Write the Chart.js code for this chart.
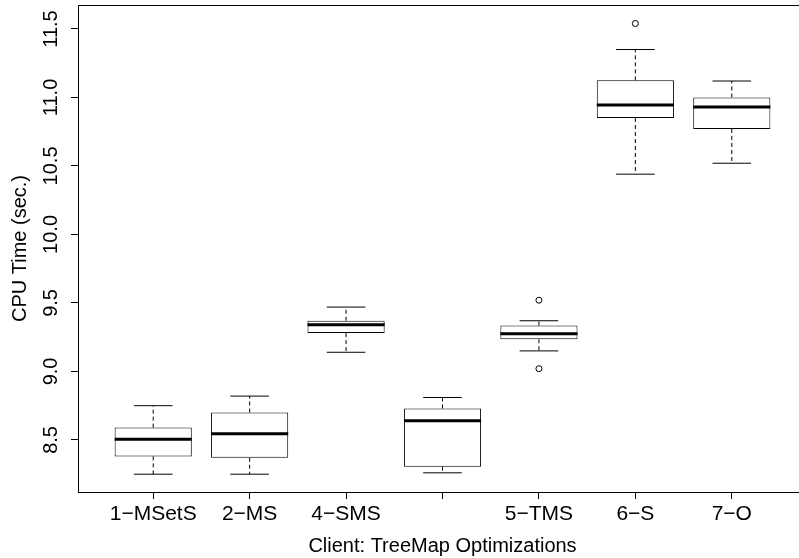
<!DOCTYPE html>
<html>
<head>
<meta charset="utf-8">
<script src="https://cdn.jsdelivr.net/npm/chart.js@4.4.1/dist/chart.umd.min.js"></script>
<style>
  html, body { margin: 0; padding: 0; background: #fff; overflow: hidden; }
  #clip { width: 799px; height: 558px; overflow: hidden; }
  #wrap { width: 812px; height: 558px; }
</style>
</head>
<body>
<!-- the plot region runs a little past the right edge of the picture, as in the original -->
<div id="clip"><div id="wrap"><canvas id="cpuChart"></canvas></div></div>
<script>
// Client: TreeMap Optimizations - CPU time box plots
const categories = ['1\u2212MSetS', '2\u2212MS', '4\u2212SMS', '', '5\u2212TMS', '6\u2212S', '7\u2212O'];
const whiskerLow  = [8.25, 8.25, 9.14, 8.26, 9.15, 10.44, 10.52];
const quartile1   = [8.38, 8.37, 9.28, 8.305, 9.235, 10.85, 10.77];
const medians     = [8.505, 8.545, 9.34, 8.64, 9.275, 10.945, 10.93];
const quartile3   = [8.59, 8.70, 9.37, 8.73, 9.335, 11.125, 11.0];
const whiskerHigh = [8.75, 8.82, 9.47, 8.81, 9.37, 11.35, 11.12];
const outliers    = [[], [], [], [], [9.52, 9.02], [11.54], []];
const yTicks      = [8.5, 9.0, 9.5, 10.0, 10.5, 11.0, 11.5];

const X_MIN = 0.22, X_MAX = 7.78;
const Y_MIN = 8.12, Y_MAX = 11.675;

Chart.defaults.font.family = "'Liberation Sans', Arial, sans-serif";
Chart.defaults.color = '#000';

// boxes as floating bars
const boxData = categories.map((c, i) => ({ x: i + 1, y: [quartile1[i], quartile3[i]] }));

// median segments
const medianData = [];
categories.forEach((c, i) => {
    medianData.push({ x: i + 0.6, y: medians[i] }, { x: i + 1.4, y: medians[i] }, { x: i + 1, y: null });
});

// dashed whisker stems
const stemData = [];
categories.forEach((c, i) => {
    stemData.push({ x: i + 1, y: quartile3[i] }, { x: i + 1, y: whiskerHigh[i] }, { x: i + 1, y: null });
    stemData.push({ x: i + 1, y: quartile1[i] }, { x: i + 1, y: whiskerLow[i] }, { x: i + 1, y: null });
});

// whisker caps
const capData = [];
categories.forEach((c, i) => {
    capData.push({ x: i + 0.8, y: whiskerHigh[i] }, { x: i + 1.2, y: whiskerHigh[i] }, { x: i + 1, y: null });
    capData.push({ x: i + 0.8, y: whiskerLow[i] }, { x: i + 1.2, y: whiskerLow[i] }, { x: i + 1, y: null });
});

const outlierData = [];
outliers.forEach((vals, i) => vals.forEach(v => outlierData.push({ x: i + 1, y: v })));

const ctx = document.getElementById('cpuChart').getContext('2d');
new Chart(ctx, {
    type: 'bar',
    data: {
        datasets: [
            {
                type: 'line',
                data: medianData,
                borderColor: '#000',
                borderWidth: 3,
                pointRadius: 0,
                spanGaps: false,
                order: 0
            },
            {
                type: 'scatter',
                data: outlierData,
                pointStyle: 'circle',
                pointRadius: 3,
                pointBorderWidth: 1,
                pointBorderColor: '#000',
                pointBackgroundColor: 'rgba(0,0,0,0)',
                order: 1
            },
            {
                type: 'line',
                data: capData,
                borderColor: '#000',
                borderWidth: 1,
                pointRadius: 0,
                spanGaps: false,
                order: 2
            },
            {
                type: 'line',
                data: stemData,
                borderColor: '#000',
                borderWidth: 1,
                borderDash: [4, 3],
                pointRadius: 0,
                spanGaps: false,
                order: 3
            },
            {
                type: 'bar',
                data: boxData,
                backgroundColor: '#fff',
                borderColor: '#000',
                borderWidth: 1,
                borderSkipped: false,
                barPercentage: 0.8,
                categoryPercentage: 1.0,
                grouped: false,
                order: 4
            }
        ]
    },
    options: {
        responsive: true,
        maintainAspectRatio: false,
        animation: false,
        events: [],
        layout: { padding: { top: 5, right: 1, left: 0, bottom: 0 } },
        plugins: {
            legend: { display: false },
            tooltip: { enabled: false }
        },
        scales: {
            x: {
                type: 'linear',
                position: 'bottom',
                min: X_MIN,
                max: X_MAX,
                offset: false,
                afterBuildTicks: axis => {
                    axis.ticks = categories.map((c, i) => ({ value: i + 1 }));
                },
                afterFit: axis => {
                    axis.height = 66;
                    axis.paddingLeft = 0;
                    axis.paddingRight = 0;
                },
                ticks: {
                    callback: v => categories[Math.round(v) - 1],
                    font: { size: 21 },
                    color: '#000',
                    padding: 3,
                    maxRotation: 0,
                    autoSkip: false
                },
                grid: {
                    display: true,
                    offset: false,
                    drawOnChartArea: false,
                    drawTicks: true,
                    tickLength: 7,
                    color: '#000'
                },
                border: { display: true, color: '#000', width: 1 },
                title: {
                    display: true,
                    text: 'Client: TreeMap Optimizations',
                    font: { size: 20 },
                    color: '#000',
                    padding: { top: 0, bottom: 0 }
                }
            },
            y: {
                type: 'linear',
                position: 'left',
                min: Y_MIN,
                max: Y_MAX,
                afterBuildTicks: axis => {
                    axis.ticks = yTicks.map(v => ({ value: v }));
                },
                afterFit: axis => {
                    axis.width = 78;
                    axis.paddingTop = 0;
                    axis.paddingBottom = 0;
                },
                ticks: {
                    callback: v => Number(v).toFixed(1),
                    font: { size: 20 },
                    color: '#000',
                    minRotation: 90,
                    maxRotation: 90,
                    crossAlign: 'center',
                    padding: 0
                },
                grid: {
                    display: true,
                    drawOnChartArea: false,
                    drawTicks: true,
                    tickLength: 7,
                    color: '#000'
                },
                border: { display: true, color: '#000', width: 1 },
                title: {
                    display: true,
                    text: 'CPU Time (sec.)',
                    font: { size: 20 },
                    color: '#000',
                    padding: { top: 8, bottom: 0 }
                }
            },
            xTop: {
                type: 'linear',
                position: 'top',
                min: X_MIN,
                max: X_MAX,
                afterFit: axis => { axis.height = 0; },
                ticks: { display: false },
                grid: { display: false, drawTicks: false },
                border: { display: true, color: '#000', width: 1 }
            }
        }
    }
});
</script>
</body>
</html>
